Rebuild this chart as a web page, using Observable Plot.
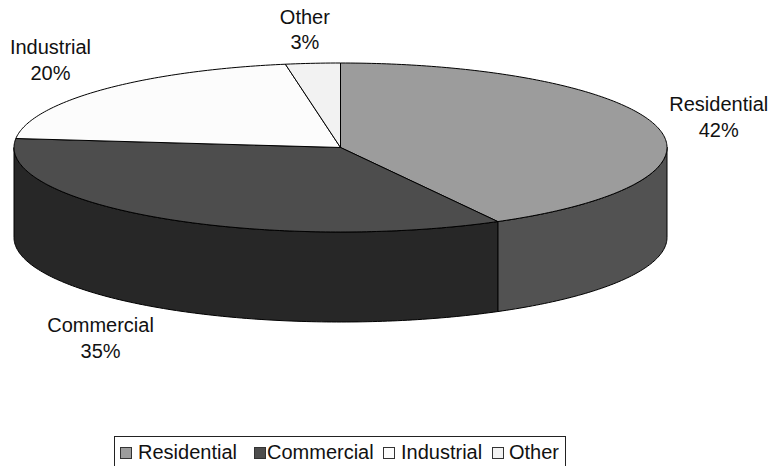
<!DOCTYPE html>
<html>
<head>
<meta charset="utf-8">
<script src="https://cdn.jsdelivr.net/npm/d3@7"></script>
<script src="https://cdn.jsdelivr.net/npm/@observablehq/plot@0.6"></script>
<style>
  html, body { margin: 0; padding: 0; background: #fff; overflow: hidden; }
  #chart svg { display: block; }
  #legend { position: absolute; left: 114px; top: 436px; width: 452px; height: 40px; border: 1px solid #222; box-sizing: border-box; font: 20px "Liberation Sans", Arial, sans-serif; color: #111; }
  #legend .sw { position: absolute; top: 10px; width: 12px; height: 12px; box-sizing: border-box; border: 1px solid #333; }
  #legend .tx { position: absolute; top: 4px; line-height: 23px; white-space: pre; }
</style>
</head>
<body>
<div id="chart"></div>
<div id="legend"></div>
<script>
const categories = ["Residential", "Commercial", "Industrial", "Other"];
const values = [42, 34.7, 20.6, 2.7];
const percentLabels = ["42%", "35%", "20%", "3%"];
const topColors = ["#9c9c9c", "#4d4d4d", "#fcfcfc", "#f2f2f2"];
const sideColors = ["#525252", "#272727", "#fcfcfc", "#f2f2f2"];

const depth = 90 / 84.5;            // rim height, in vertical radius units
const TAU = 2 * Math.PI;
const total = d3.sum(values);
const starts = d3.cumsum([0, ...values]).map((v) => v / total);

const arcPoints = (a0, a1, dz = 0) => {
  const n = Math.max(2, Math.ceil((a1 - a0) * 400));
  return d3.range(n + 1).map((i) => {
    const t = (a0 + ((a1 - a0) * i) / n) * TAU;
    return { x: Math.sin(t), y: Math.cos(t) - dz };
  });
};

// upper faces
const wedges = categories.map((name, i) => ({
  name, fill: topColors[i],
  points: [{ x: 0, y: 0 }, ...arcPoints(starts[i], starts[i + 1]), { x: 0, y: 0 }]
}));

// visible rim: the front half of the disc, from 3 o'clock to 9 o'clock
const rims = categories.map((name, i) => {
  const a0 = Math.max(starts[i], 0.25), a1 = Math.min(starts[i + 1], 0.75);
  if (a1 <= a0) return null;
  return {
    name, fill: sideColors[i],
    points: [...arcPoints(a0, a1), ...arcPoints(a0, a1, depth).reverse(), arcPoints(a0, a1)[0]]
  };
}).filter(Boolean);

const labelOffsets = [[62, -10.5], [-59, 119], [-52, -31], [-8, -35]];
const labels = categories.map((name, i) => {
  const t = ((starts[i] + starts[i + 1]) / 2) * TAU;
  return { x: Math.sin(t), y: Math.cos(t), text: name + "\n" + percentLabels[i], offset: labelOffsets[i] };
});

const faceMark = (f) => Plot.line(f.points, {
  x: "x", y: "y", fill: f.fill, stroke: "#000", strokeWidth: 1,
  strokeLinejoin: "round", curve: "linear"
});

const plot = Plot.plot({
  width: 772,
  height: 436,
  margin: 0,
  style: { background: "#fff", fontFamily: '"Liberation Sans", Arial, sans-serif' },
  x: { type: "linear", domain: [-1, 1], range: [13.5, 666.5], axis: null },
  y: { type: "linear", domain: [-1, 1], range: [231.5, 62.5], axis: null },
  marks: [
    ...rims.map(faceMark),
    ...wedges.map(faceMark),
    ...labels.map((l) => Plot.text([l], {
      x: "x", y: "y", text: "text", dx: l.offset[0], dy: l.offset[1],
      fontSize: 20, lineHeight: 1.28, fill: "#111", textAnchor: "middle", clip: false
    }))
  ]
});
document.getElementById("chart").append(plot);

const legendSwatchLeft = [5, 139, 268, 377];
const legendTextLeft = [23, 152, 286, 394];
const legend = document.getElementById("legend");
categories.forEach((name, i) => {
  const sw = document.createElement("div");
  sw.className = "sw";
  sw.style.left = legendSwatchLeft[i] + "px";
  sw.style.background = topColors[i];
  const tx = document.createElement("div");
  tx.className = "tx";
  tx.style.left = legendTextLeft[i] + "px";
  tx.textContent = name;
  legend.append(sw, tx);
});
</script>
</body>
</html>
